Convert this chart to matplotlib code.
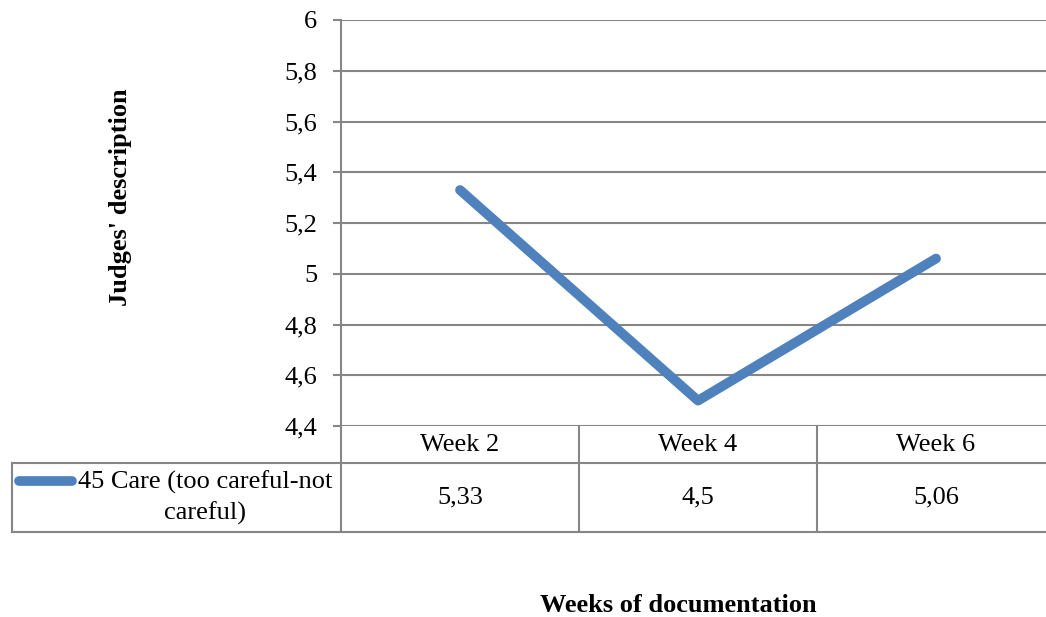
import matplotlib
matplotlib.use("Agg")
import matplotlib.pyplot as plt
from matplotlib.ticker import FuncFormatter, MultipleLocator
from matplotlib.transforms import blended_transform_factory

weeks = ["Week 2", "Week 4", "Week 6"]
care = [5.33, 4.5, 5.06]
value_labels = ["5,33", "4,5", "5,06"]
series_name = "45 Care (too careful-not\ncareful)"

plt.rcParams['font.family'] = ['Liberation Serif', 'DejaVu Serif']
W, H = 1046, 617
fig = plt.figure(figsize=(W / 100, H / 100), dpi=100)

def fx(px):
    return px / W

def fy(py):
    return 1 - py / H

grid_c = "#868686"
line_c = "#4F81BD"
fs = 19

ax = fig.add_axes([fx(341), fy(426), fx(1046) - fx(341), fy(20) - fy(426)])
ax.set_xlim(-0.5, 2.462)
ax.set_ylim(4.4, 6.0)
ax.yaxis.set_major_locator(MultipleLocator(0.2))
ax.yaxis.set_major_formatter(FuncFormatter(lambda v, p: ("%g" % round(v, 1)).replace(".", ",")))
ax.grid(axis="y", color=grid_c, linewidth=1.5)
ax.set_axisbelow(True)
for s in ["top", "right", "bottom"]:
    ax.spines[s].set_visible(False)
ax.spines["left"].set_color(grid_c)
ax.spines["left"].set_linewidth(1.5)
ax.set_xticks([])
ax.tick_params(axis="y", length=6, width=1.5, color=grid_c, pad=11, labelsize=fs)

x = list(range(len(weeks)))
ax.plot(x, care, color=line_c, linewidth=7, solid_capstyle="round", solid_joinstyle="round", clip_on=False)

# data table under the plot
tr = blended_transform_factory(ax.transData, fig.transFigure)
lk = dict(color=grid_c, linewidth=1.5, clip_on=False)
for b in [-0.5, 0.5, 1.5]:
    fig.add_artist(plt.Line2D([b, b], [fy(426), fy(532)], transform=tr, **lk))
for yy in [463, 532]:
    fig.add_artist(plt.Line2D([fx(12), 1], [fy(yy), fy(yy)], transform=fig.transFigure, **lk))
fig.add_artist(plt.Line2D([fx(12), fx(12)], [fy(463), fy(532)], transform=fig.transFigure, **lk))
for i, w in enumerate(weeks):
    fig.text(i, fy(445), w, transform=tr, ha="center", va="center", fontsize=fs)
    fig.text(i, fy(497), value_labels[i], transform=tr, ha="center", va="center", fontsize=fs)

fig.add_artist(plt.Line2D([fx(19), fx(72)], [fy(481), fy(481)], transform=fig.transFigure,
                          color=line_c, linewidth=7, solid_capstyle="round"))
fig.text(fx(205), fy(498), series_name, ha="center", va="center", fontsize=fs, linespacing=1.4)

fig.text(fx(120), fy(197), "Judges' description", rotation=90, ha="center", va="center",
         fontsize=fs, fontweight="bold")
fig.text(fx(678), fy(605), "Weeks of documentation", ha="center", va="center",
         fontsize=fs, fontweight="bold")

fig.savefig("out.png", dpi=100)
